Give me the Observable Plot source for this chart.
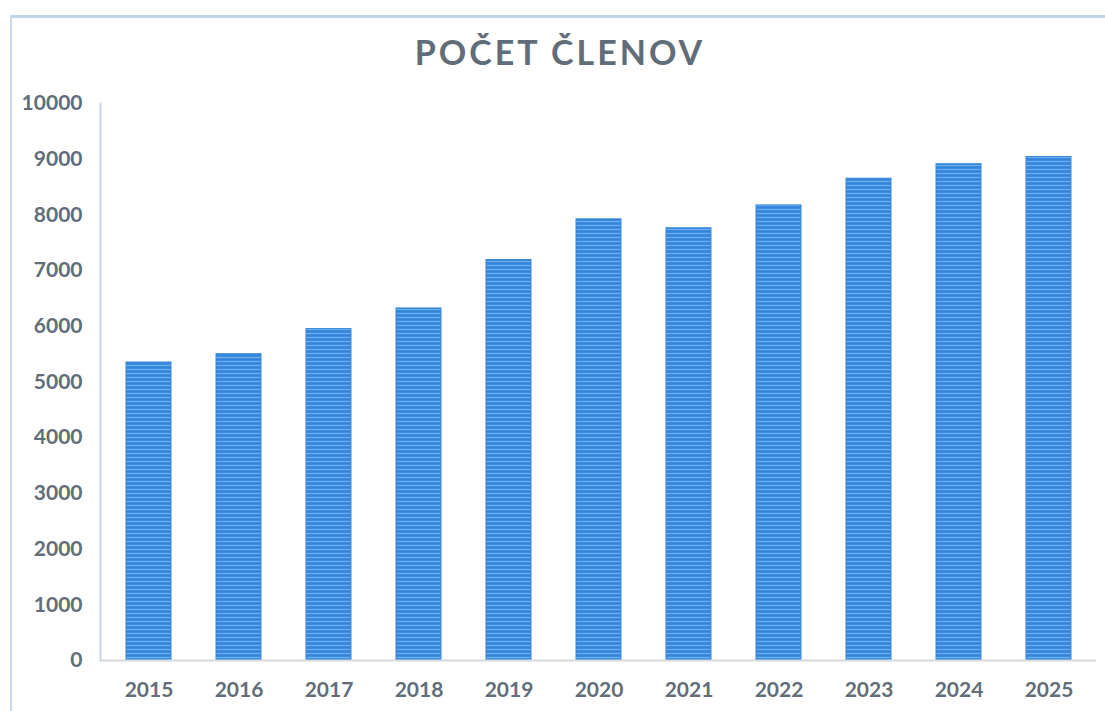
<!DOCTYPE html>
<html>
<head>
<meta charset="utf-8">
<script src="https://cdn.jsdelivr.net/npm/d3@7"></script>
<script src="https://cdn.jsdelivr.net/npm/@observablehq/plot@0.6"></script>
<style>
  html, body { margin: 0; padding: 0; background: #fff; overflow: hidden; }
  #wrap { position: relative; width: 1105px; height: 711px; font-family: Lato, "Open Sans", sans-serif; }
  #frame { position: absolute; left: 10px; top: 15px; right: -6px; bottom: -6px;
           border: 2px solid #c9d9ea; border-top: 3px solid #c2d4e8; }
  #title { position: absolute; left: 0; top: 0; width: 1120px; height: 80px; text-align: center;
           font-weight: 700; font-size: 34px; letter-spacing: 3px; color: #616d78; line-height: 104px; }
  #chart { position: absolute; left: 0; top: 80px; }
</style>
</head>
<body>
<div id="wrap">
  <div id="frame"></div>
  <div id="title">POČET ČLENOV</div>
  <div id="chart"></div>
</div>
<script>
const years = ["2015","2016","2017","2018","2019","2020","2021","2022","2023","2024","2025"];
const members = [5350, 5500, 5950, 6320, 7190, 7920, 7760, 8170, 8650, 8910, 9040];
const yTicks = [0,1000,2000,3000,4000,5000,6000,7000,8000,9000,10000];

const data = years.map((y, i) => ({year: y, value: members[i]}));

const plot = Plot.plot({
  width: 1105,
  height: 631,
  marginLeft: 100,
  marginRight: 9,
  marginTop: 23,
  marginBottom: 51,
  style: {fontFamily: "Lato, 'Open Sans', sans-serif", fontSize: "21px", fontWeight: "700", color: "#616d78", background: "transparent"},
  x: {domain: years, paddingInner: 0.5, paddingOuter: 0.25, label: null},
  y: {domain: [0, 10000], label: null},
  marks: [
    Plot.barY(data, {x: "year", y: "value", fill: "url(#stripes)", stroke: "#3a86d6", strokeWidth: 1}),
    Plot.ruleY([0], {stroke: "#d6d9dc", strokeWidth: 2, dx: 0}),
    Plot.frame({anchor: "left", stroke: "#c6d7e8", strokeWidth: 2, strokeOpacity: 1}),
    Plot.axisY({ticks: yTicks, tickSize: 0, tickPadding: 18, tickFormat: d => String(d), fontSize: 21, fontWeight: 700, fill: "#616d78"}),
    Plot.axisX({tickSize: 0, tickPadding: 22, fontSize: 21, fontWeight: 700, fill: "#616d78"})
  ]
});

const svg = d3.select(plot);
const defs = svg.insert("defs", ":first-child");
const pat = defs.append("pattern").attr("id", "stripes").attr("patternUnits", "userSpaceOnUse")
  .attr("width", 8).attr("height", 4);
pat.append("rect").attr("width", 8).attr("height", 4).attr("fill", "#3c8ddf");
pat.append("rect").attr("y", 1).attr("width", 8).attr("height", 1).attr("fill", "#6aaeef");
pat.append("rect").attr("y", 3).attr("width", 8).attr("height", 0.7).attr("fill", "#2f7fd2");

document.getElementById("chart").appendChild(plot);
</script>
</body>
</html>
